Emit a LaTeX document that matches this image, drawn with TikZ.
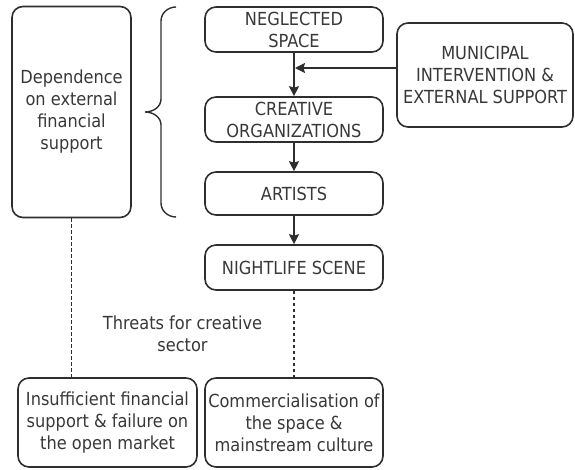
\documentclass[tikz,border=0pt]{standalone}
\usepackage{fontspec}
\setmainfont{DejaVu Sans Condensed}
\usetikzlibrary{arrows.meta}
\definecolor{ink}{HTML}{2E2E2E}
\definecolor{txt}{HTML}{383838}
\tikzset{
  box/.style={draw=ink, line width=1.6bp, rounded corners=11bp, align=center,
    inner sep=0pt, text=txt, font=\fontsize{18bp}{22bp}\selectfont},
  flow/.style={draw=ink, line width=1.6bp, -{Stealth[length=10bp,width=10bp,inset=1.5bp]}},
  dashline/.style={draw=ink, line width=1.2bp, dash pattern=on 3.5bp off 2.5bp},
  lbl/.style={align=center, text=txt, inner sep=0pt, font=\fontsize{18bp}{22bp}\selectfont}
}
\begin{document}
\begin{tikzpicture}[x=1bp,y=-1bp]
\useasboundingbox (0,0) rectangle (575,470);
\node[box, minimum width=119bp, minimum height=211bp] (dep) at (71.5,112)
  {Dependence\\on external\\financial\\support};
\node[box, minimum width=178bp, minimum height=45bp] (neg) at (294,29.5)
  {NEGLECTED\\SPACE};
\node[box, minimum width=178bp, minimum height=45bp] (cre) at (294,119.5)
  {CREATIVE\\ORGANIZATIONS};
\node[box, minimum width=178bp, minimum height=43bp] (art) at (294,193.5)
  {ARTISTS};
\node[box, minimum width=178bp, minimum height=45bp] (night) at (294,267.5)
  {NIGHTLIFE SCENE};
\node[box, minimum width=176bp, minimum height=104bp] (mun) at (485,75)
  {MUNICIPAL\\INTERVENTION \&\\EXTERNAL SUPPORT};
\node[box, minimum width=179bp, minimum height=89bp] (ins) at (107.5,422.5)
  {Insufficient financial\\support \& failure on\\the open market};
\node[box, minimum width=178bp, minimum height=89bp] (com) at (294,422.5)
  {Commercialisation of\\the space \&\\mainstream culture};
\node[lbl] (thr) at (182.5,334) {Threats for creative\\sector};
\coordinate (mj) at (294,68);
\draw[flow] (neg) -- (cre);
\draw[flow] (cre) -- (art);
\draw[flow] (art) -- (night);
\draw[flow] (mun.west |- mj) -- ([xshift=1bp]mj);
\draw[dashline] (dep.south) -- (dep.south |- ins.north);
\draw[dashline] (night) -- (com);
\draw[ink, line width=1.4bp] (176,7) to[out=180,in=90] (161,21) -- (161,99)
  to[out=-90,in=0] (145,112) to[out=0,in=90] (161,125) -- (161,203)
  to[out=-90,in=180] (176,217);
\end{tikzpicture}
\end{document}
